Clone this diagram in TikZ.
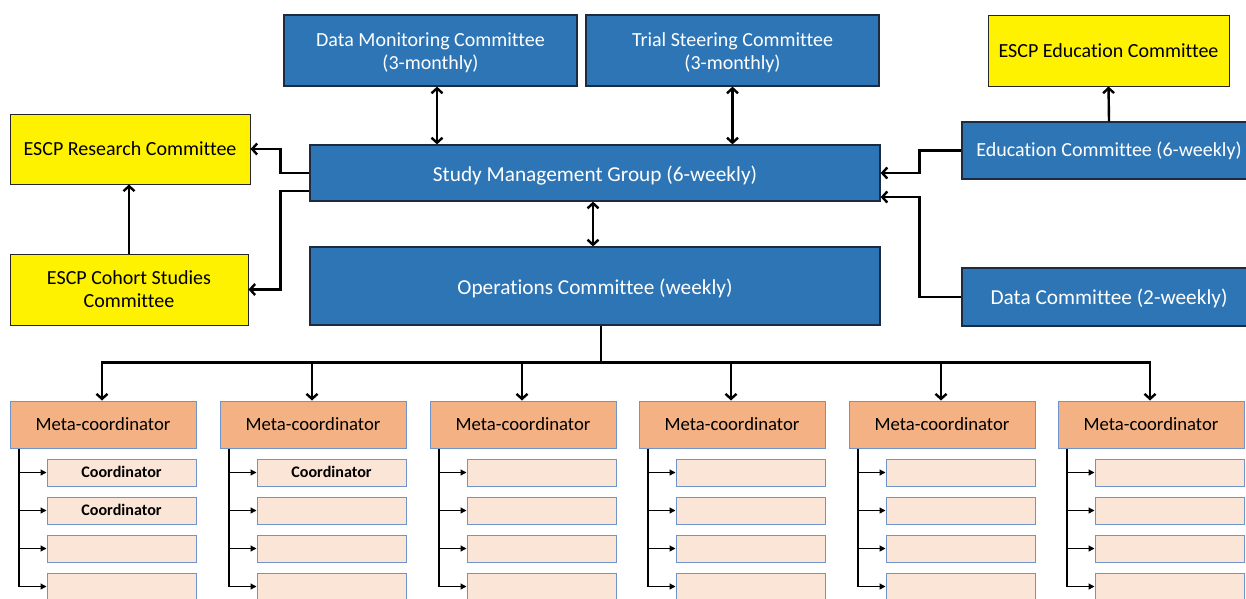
\documentclass[tikz,border=0pt]{standalone}
\usepackage{fontspec}
\setmainfont{Carlito}[Ligatures=NoCommon]
\usetikzlibrary{arrows.meta}
\definecolor{bluefill}{HTML}{2E75B6}
\definecolor{bluedraw}{HTML}{1C2B40}
\definecolor{metafill}{HTML}{F4B183}
\definecolor{subfill}{HTML}{FBE5D6}
\definecolor{metadraw}{HTML}{6F94CB}
\newcommand{\topstrut}[1]{\rule{0pt}{#1}}
\newcommand{\botstrut}{\rule[-6pt]{0pt}{6pt}}
\tikzset{
  bluebox/.style={draw=bluedraw, line width=1.3pt, fill=bluefill, text=white, align=center, inner sep=0pt, font=\fontsize{20}{23.5}\selectfont},
  bigtext/.style={font=\fontsize{21.3}{25}\selectfont},
  yellowbox/.style={draw=black!85, line width=1pt, fill=yellow, text=black, align=center, inner sep=0pt, font=\fontsize{20}{22.6}\selectfont},
  metabox/.style={draw=metadraw, line width=1pt, fill=metafill, minimum width=186pt, minimum height=47pt, inner sep=0pt, text height=12.8pt, text depth=0pt, font=\fontsize{18.7}{22}\selectfont},
  subbox/.style={draw=metadraw, line width=1pt, fill=subfill, minimum width=149pt, minimum height=27pt, inner sep=0pt, text height=9.6pt, text depth=0pt, font=\bfseries\fontsize{16.1}{19}\selectfont},
  conn/.style={line width=2.4pt, draw=black},
  carrow/.style={conn, -{Straight Barb[length=5pt,width=11pt]}},
  dcarrow/.style={conn, {Straight Barb[length=5pt,width=11pt]}-{Straight Barb[length=5pt,width=11pt]}},
  subline/.style={line width=1.3pt, draw=black},
  subarrow/.style={subline, -{Triangle[length=6pt,width=6pt]}}
}
\begin{document}
\begin{tikzpicture}[x=1pt,y=-1pt]
\clip (0,0) rectangle (1246,598);
\fill[white] (0,0) rectangle (1246,598);
% top committees
\node[bluebox, minimum width=293pt, minimum height=71pt] (dmc) at (430.5,50.5) {\topstrut{20.5pt}Data Monitoring Committee\\(3-monthly)\botstrut};
\node[bluebox, minimum width=293pt, minimum height=71pt] (tsc) at (732.5,50.5) {\topstrut{20.5pt}Trial Steering Committee\\(3-monthly)\botstrut};
\node[yellowbox, minimum width=241pt, minimum height=71pt, text height=13pt, text depth=0pt] (escpedu) at (1108.5,50.5) {ESCP Education Committee};
\node[yellowbox, minimum width=240pt, minimum height=70pt, text height=12pt, text depth=0pt] (research) at (130,149) {ESCP Research Committee};
\node[bluebox, bigtext, minimum width=570pt, minimum height=56pt, text height=16.6pt, text depth=0pt] (smg) at (595,173) {Study Management Group (6-weekly)};
\node[bluebox, minimum width=294pt, minimum height=57pt, text height=12.4pt, text depth=0pt] (edu) at (1109,150.5) {Education Committee (6-weekly)};
\node[yellowbox, minimum width=238pt, minimum height=71pt] (cohort) at (129,289.5) {\topstrut{18.4pt}ESCP Cohort Studies\\Committee\botstrut};
\node[bluebox, bigtext, minimum width=570pt, minimum height=78pt, text height=16pt, text depth=0pt] (ops) at (595,286) {Operations Committee (weekly)};
\node[bluebox, bigtext, minimum width=294pt, minimum height=58pt, text height=14.6pt, text depth=0pt] (data) at (1109,297) {Data Committee (2-weekly)};
% connectors top
\draw[dcarrow] ([xshift=6.5pt]dmc.south) -- ([xshift=6.5pt]dmc.south |- smg.north);
\draw[dcarrow] (tsc.south) -- (tsc.south |- smg.north);
\draw[dcarrow] ([xshift=-2pt]smg.south) -- ([xshift=-2pt]ops.north);
\draw[carrow] (smg.west) -- ++(-29,0) |- (research.east);
\draw[carrow] ([yshift=-18pt]smg.west) -- ++(-29,0) |- (cohort.east);
\draw[carrow] (cohort.north) -- (cohort.north |- research.south);
\draw[carrow] (edu.west) -- ++(-42,0) |- (smg.east);
\draw[carrow] (data.west) -- ++(-42,0) |- ([yshift=-24pt]smg.east);
\draw[carrow] (edu.north) -- (escpedu.south);
% meta coordinators
\foreach \i/\l in {1/10,2/220,3/430,4/639,5/849,6/1058}{
  \node[metabox] (m\i) at (\l+93,424.5) {Meta-coordinator};
  \foreach \j/\y in {1/472.5,2/510.5,3/548.5,4/586.5}{
    \node[subbox] (s\i\j) at (\l+111.5,\y) {\ifnum\i\j<13 Coordinator\else\ifnum\i\j=21 Coordinator\fi\fi};
  }
  \coordinate (t\i) at ([xshift=-84pt]m\i.south);
  \draw[subarrow] (t\i) |- (s\i4.west);
  \foreach \j in {1,2,3}{
    \draw[subarrow] (t\i |- s\i\j.west) -- (s\i\j.west);
  }
}
\draw[conn] ([xshift=6pt]ops.south) -- ++(0,37) coordinate (bus);
\draw[conn, line cap=rect] ([xshift=-1pt]m1.north |- bus) -- ([xshift=-1pt]m6.north |- bus);
\foreach \i in {1,...,6}{
  \draw[carrow] ([xshift=-1pt]m\i.north |- bus) -- ([xshift=-1pt]m\i.north);
}
\end{tikzpicture}
\end{document}
